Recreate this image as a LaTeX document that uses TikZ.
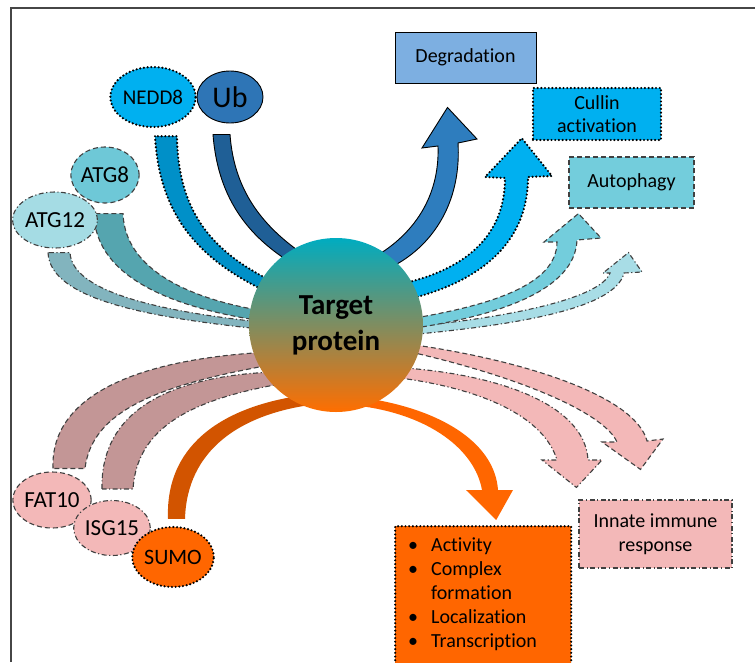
\documentclass[tikz,border=0pt]{standalone}
\usepackage{fontspec}
\setmainfont[Ligatures=NoCommon]{Carlito}
\usetikzlibrary{shapes.geometric,calc,backgrounds}

\definecolor{ubfill}{RGB}{46,117,182}
\definecolor{ubband}{RGB}{31,95,150}
\definecolor{neddfill}{RGB}{0,176,240}
\definecolor{neddband}{RGB}{0,144,200}
\definecolor{atgeight}{RGB}{110,200,215}
\definecolor{atgeightband}{RGB}{85,165,175}
\definecolor{atgtwelve}{RGB}{165,220,228}
\definecolor{atgtwelveband}{RGB}{130,180,190}
\definecolor{pinkfill}{RGB}{243,184,184}
\definecolor{pinkband}{RGB}{195,150,150}
\definecolor{sumofill}{RGB}{255,102,0}
\definecolor{sumoband}{RGB}{210,84,0}
\definecolor{degfill}{RGB}{125,175,225}
\definecolor{degarrow}{RGB}{46,125,190}
\definecolor{autofill}{RGB}{115,205,220}
\definecolor{smallarrow}{RGB}{168,221,230}
\definecolor{tptop}{RGB}{0,172,192}
\definecolor{tpmid}{RGB}{125,160,162}
\definecolor{tpbot}{RGB}{255,110,0}
\definecolor{frameline}{RGB}{70,70,70}

\newcommand\itm{\makebox[23pt][l]{\textbullet}}

\begin{document}
\begin{tikzpicture}[x=1pt,y=-1pt,
	mol/.style={ellipse,inner sep=0pt,font=\fontsize{23}{26}\selectfont},
	res/.style={rectangle,inner sep=0pt,align=center,font=\fontsize{20}{23}\selectfont},
	ln solid/.style={draw=black,line width=0.9pt},
	ln dots/.style={draw=black,line width=2.4pt,dash pattern=on 0pt off 3.7pt,line cap=round},
	ln dash/.style={draw=black!75,line width=1.1pt,dash pattern=on 5pt off 3pt},
	ln dashdot/.style={draw=black!75,line width=1.1pt,dash pattern=on 5pt off 2.5pt on 1.2pt off 2.5pt}]
\useasboundingbox (0,0) rectangle (755,662);
\clip (0,0) rectangle (755,662);
\draw[frameline,line width=1.5pt] (11,662) -- (11,8) -- (755,8);

% target
\node[circle,minimum size=174pt,inner sep=0pt,top color=tptop,middle color=tpmid,bottom color=tpbot,
	font=\bfseries\fontsize{29}{36}\selectfont,align=center] (tp) at (336,325) {Target\\protein};

% modifiers
\node[mol,ln dots,fill=neddfill,minimum width=68pt,minimum height=60pt,font=\fontsize{21}{24}\selectfont] (nedd8) at (153,97) {NEDD8};
\node[mol,ln solid,fill=ubfill,minimum width=66pt,minimum height=52pt,font=\fontsize{30}{32}\selectfont] (ub) at (230,97) {Ub};
\node[mol,ln dash,fill=atgeight,minimum width=68pt,minimum height=56pt] (atg8) at (105,175) {ATG8};
\node[mol,ln dashdot,fill=atgtwelve,minimum width=70pt,minimum height=56pt] (atg12) at (55,220) {ATG12};
\node[mol,ln dash,fill=pinkfill,minimum width=68pt,minimum height=56pt] (fat10) at (52,500) {FAT10};
\node[mol,ln dashdot,fill=pinkfill,minimum width=66pt,minimum height=55pt] (isg15) at (112,528) {ISG15};
\node[mol,ln dots,fill=sumofill,minimum width=68pt,minimum height=60pt,font=\fontsize{22}{24}\selectfont] (sumo) at (173,557) {SUMO};

% results
\node[res,ln solid,fill=degfill,minimum width=141pt,minimum height=51pt] (deg) at (465.5,57.5) {Degradation};
\node[res,ln dots,fill=neddfill,minimum width=128pt,minimum height=52pt] (cul) at (597,114) {Cullin\\activation};
\node[res,ln dash,fill=autofill,minimum width=125pt,minimum height=51pt] (auto) at (631.5,182.5) {Autophagy};
\node[res,ln dashdot,fill=pinkfill,minimum width=153pt,minimum height=68pt,font=\fontsize{20}{24}\selectfont] (innate) at (655.5,534) {Innate immune\\response};
\node[res,ln dots,fill=sumofill,minimum width=176pt,minimum height=180pt,anchor=north west] (fx) at (394,525) {};
\node[anchor=north west,inner sep=0pt,align=left,font=\fontsize{20}{24}\selectfont] (fxlist) at ($(fx.north west)+(14,13)$)
	{\itm Activity\\\itm Complex\\\hspace*{23pt}formation\\\itm Localization\\\itm Transcription};

\begin{scope}[on background layer]
% incoming bands
\draw[ln solid,fill=ubband] ($(ub.south)+(-17,11)$) .. controls (218,200) and (250,240) .. ($(tp)+(-36,-57)$)
	-- ($(tp)+(-36,-73)$) .. controls (262,225) and (234,190) .. ($(ub.south)+(0,11)$) -- cycle;
\draw[ln dots,fill=neddband] ($(nedd8.south)+(2,8)$) .. controls (160,230) and (215,270) .. ($(tp)+(-51,-25)$)
	-- ($(tp)+(-56,-40)$) .. controls (215,255) and (178,215) .. ($(nedd8.south)+(24,8)$) -- cycle;
\draw[ln dash,fill=atgeightband] ($(atg8.south)+(-11,10)$) .. controls (95,280) and (180,310) .. ($(tp)+(-66,-3)$)
	-- ($(tp)+(-66,-13)$) .. controls (190,300) and (125,270) .. ($(atg8.south)+(18,10)$) -- cycle;
\draw[ln dashdot,fill=atgtwelveband] ($(atg12.south)+(-7,4)$) .. controls (50,300) and (150,318) .. ($(tp)+(-66,5)$)
	-- ($(tp)+(-66,-2)$) .. controls (160,312) and (72,292) .. ($(atg12.south)+(15,4)$) -- cycle;
\draw[ln dash,fill=pinkband] ($(fat10.north)+(1,-3)$) .. controls (50,390) and (150,358) .. ($(tp)+(-66,27)$)
	-- ($(tp)+(-66,40)$) .. controls (160,385) and (92,410) .. ($(fat10.north)+(33,-3)$) -- cycle;
\draw[ln dashdot,fill=pinkband] ($(isg15.north)+(-10,-11)$) .. controls (100,400) and (190,375) .. ($(tp)+(-61,47)$)
	-- ($(tp)+(-56,59)$) .. controls (190,400) and (137,428) .. ($(isg15.north)+(21,-11)$) -- cycle;
\fill[sumoband] ($(sumo.north)+(-5,-7)$) .. controls (165,440) and (230,405) .. ($(tp)+(-31,70)$)
	-- ($(tp)+(-26,80)$) .. controls (240,415) and (187,450) .. ($(sumo.north)+(12,-7)$) -- cycle;

% outgoing arrows
\draw[ln solid,fill=degarrow] ($(tp)+(29,-63)$) .. controls (410,240) and (440,200) .. (438,146) -- (422,148)
	-- ($(deg.south)+(-18,24)$) -- (477,139) -- (458,143) .. controls (462,210) and (425,255) .. ($(tp)+(44,-53)$) -- cycle;
\draw[ln dots,fill=neddfill] ($(tp)+(69,-42)$) .. controls (460,270) and (505,240) .. (505,178) -- (485,177)
	-- ($(cul.south west)+(-10,-3)$) -- (552,176) -- (528,177) .. controls (528,250) and (470,285) .. ($(tp)+(69,-25)$) -- cycle;
\draw[ln dashdot,fill=smallarrow] ($(tp)+(82,1)$) .. controls (500,318) and (600,300) .. (610,273) -- (603,273)
	-- ($(auto.south)+(-3,44)$) -- (642,272) -- (624,273) .. controls (615,310) and (510,325) .. ($(tp)+(82,9)$) -- cycle;
\draw[ln dash,fill=autofill] ($(tp)+(79,-7)$) .. controls (490,305) and (557,285) .. (557,242) -- (544,242)
	-- ($(auto.south west)+(10,5)$) -- (601,238) -- (577,240) .. controls (575,290) and (500,315) .. ($(tp)+(79,3)$) -- cycle;
\draw[ln dash,fill=pinkfill] ($(tp)+(79,20)$) .. controls (520,360) and (635,395) .. (647,441) -- (663,439)
	-- ($(innate.north)+(-15,-30)$) -- (602,442) -- (617,442) .. controls (605,415) and (530,380) .. ($(tp)+(79,28)$) -- cycle;
\draw[ln dashdot,fill=pinkfill] ($(tp)+(69,43)$) .. controls (500,375) and (585,405) .. (588,460) -- (602,460)
	-- ($(innate.north west)+(-2,-12)$) -- (542,460) -- (557,460) .. controls (545,420) and (490,390) .. ($(tp)+(64,53)$) -- cycle;
\fill[sumofill] ($(tp)+(29,73)$) .. controls (445,410) and (495,445) .. (498,490) -- (513,490)
	-- ($(fx.north)+(13,-5)$) -- (466,490) -- (482,490) .. controls (475,450) and (430,415) .. ($(tp)+(24,81)$) -- cycle;
\end{scope}
\end{tikzpicture}
\end{document}
